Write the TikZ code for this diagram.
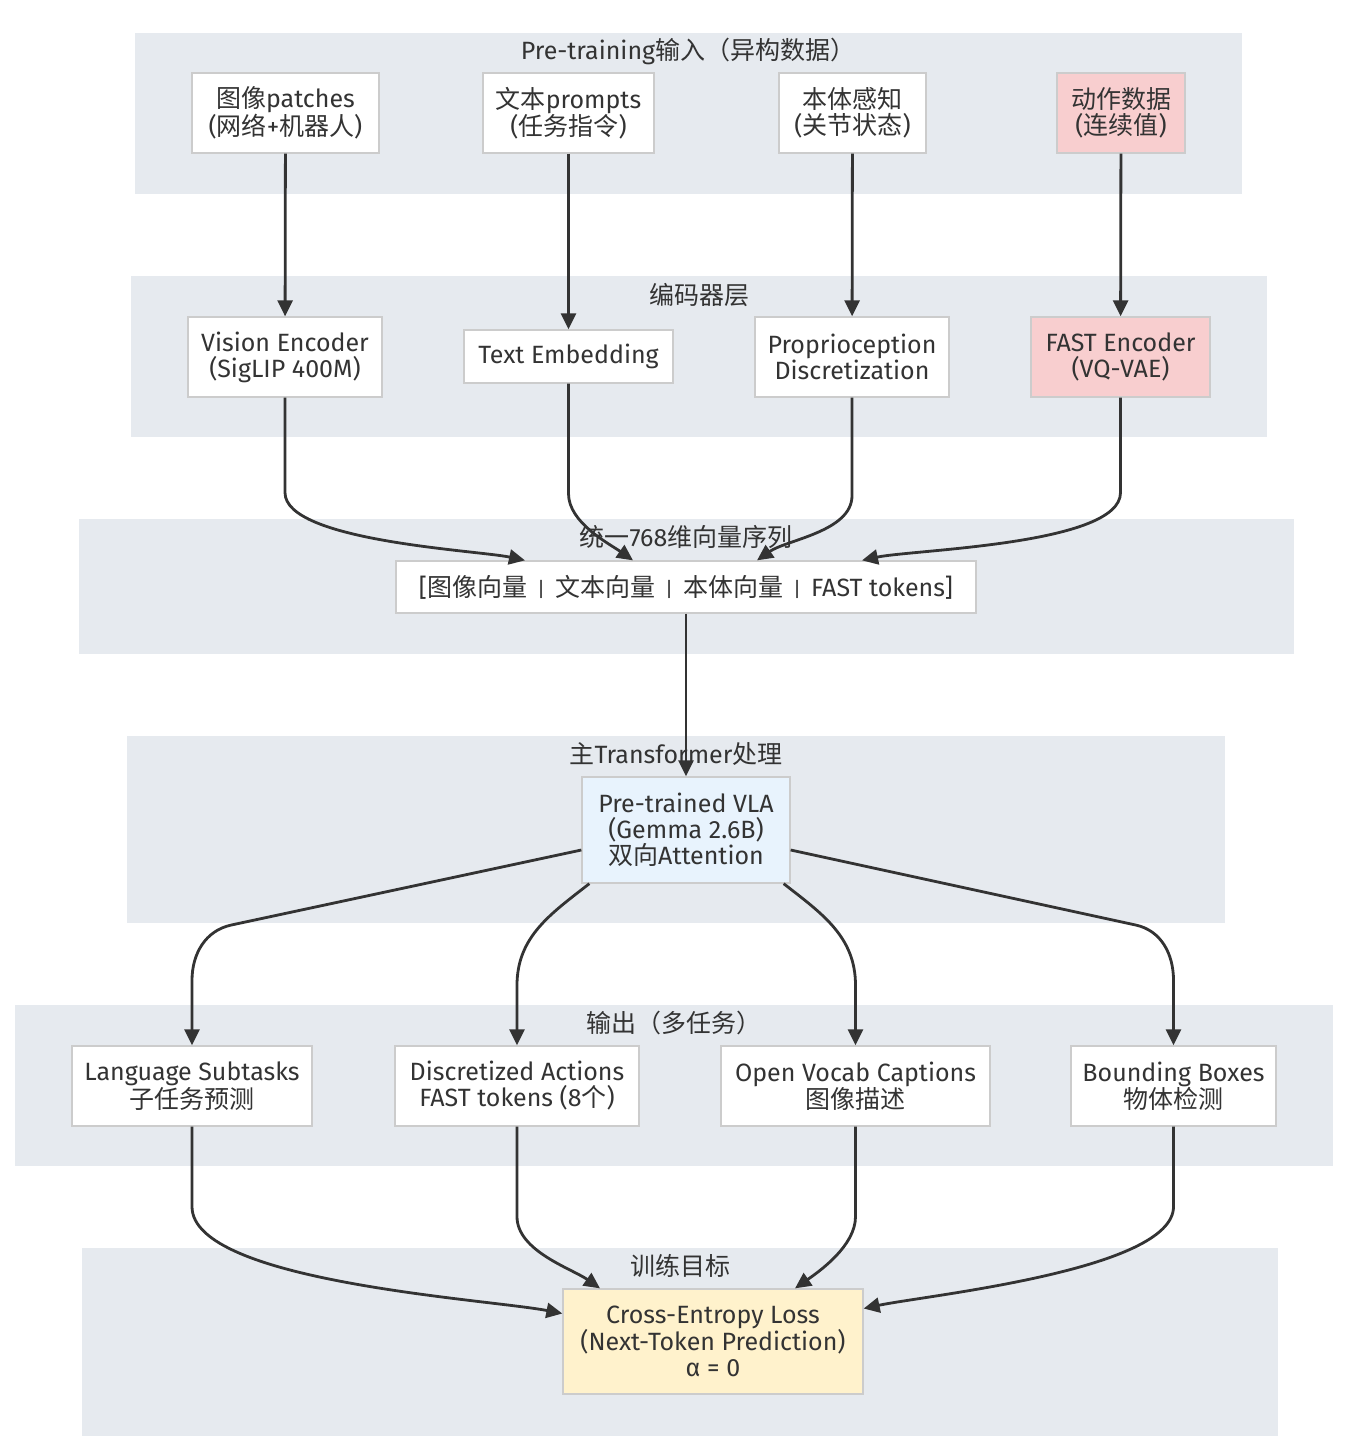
\documentclass[tikz,border=0pt]{standalone}
\usepackage{fontspec}
\setmainfont{Fira Sans}
\newfontfamily\zhfont{Noto Sans CJK SC}
\newcommand{\zh}[1]{{\zhfont #1}}
\newcommand{\vsep}{\hspace{10pt}{\fontsize{20}{20}\selectfont|}\hspace{10pt}}
\usepackage{xcolor}
\usetikzlibrary{arrows.meta,positioning,calc}
\definecolor{groupgray}{RGB}{230,234,239}
\definecolor{boxline}{RGB}{204,204,204}
\definecolor{txtgray}{RGB}{51,51,51}
\definecolor{arrowgray}{RGB}{51,51,51}
\definecolor{lightpink}{RGB}{248,206,207}
\definecolor{lightblue}{RGB}{232,243,253}
\definecolor{lightyellow}{RGB}{255,242,204}

\begin{document}
\begin{tikzpicture}[x=1pt, y=-1pt,
    box/.style={draw=boxline, line width=1.3pt, fill=white, text=txtgray, align=center, inner sep=0pt, minimum height=80pt, font=\fontsize{25}{26}\selectfont},
    grouptitle/.style={text=txtgray, inner sep=0pt, font=\fontsize{25}{26}\selectfont},
    arr/.style={-{Triangle[length=16pt,width=15pt]}, line width=2.8pt, draw=arrowgray}]
    \useasboundingbox (0,0) rectangle (1344,1456);

    % Groups
    \fill[groupgray] (135,33) rectangle (1242,194);
    \fill[groupgray] (131,276) rectangle (1267,437);
    \fill[groupgray] (79,519) rectangle (1294,654);
    \fill[groupgray] (127,736) rectangle (1225,923);
    \fill[groupgray] (15,1005) rectangle (1333,1166);
    \fill[groupgray] (82,1248) rectangle (1278,1436);
    \node[grouptitle] (g1) at (688,51) {Pre-training\zh{输入（异构数据）}};
    \node[grouptitle] (g2) at (699,295) {\zh{编码器层}};
    \node[grouptitle] (g3) at (686,537) {\zh{统一}768\zh{维向量序列}};
    \node[grouptitle] (g4) at (676,754) {\zh{主}Transformer\zh{处理}};
    \node[grouptitle] (g5) at (674,1023) {\zh{输出（多任务）}};
    \node[grouptitle] (g6) at (680,1266) {\zh{训练目标}};

    % Input Layer
    \node[box, minimum width=187pt] (img) at (285.5,113) {\zh{图像}patches\\(\zh{网络}+\zh{机器人})};
    \node[box, minimum width=171pt] (txt) at (568.5,113) {\zh{文本}prompts\\(\zh{任务指令})};
    \node[box, minimum width=147pt] (prop) at (852.5,113) {\zh{本体感知}\\(\zh{关节状态})};
    \node[box, fill=lightpink, minimum width=128pt] (act) at (1121,113) {\zh{动作数据}\\(\zh{连续值})};

    % Encoder Layer
    \node[box, minimum width=194pt] (vis) at (285,357) {Vision Encoder\\(SigLIP 400M)};
    \node[box, minimum width=209pt, minimum height=53pt] (temb) at (568.5,356.5) {Text Embedding};
    \node[box, minimum width=194pt] (propd) at (852,357) {Proprioception\\Discretization};
    \node[box, fill=lightpink, minimum width=179pt] (fast) at (1120.5,357) {FAST Encoder\\(VQ-VAE)};

    % Unified Sequence
    \node[box, minimum width=580pt, minimum height=52pt] (seq) at (686,587) {[\zh{图像向量}\vsep\zh{文本向量}\vsep\zh{本体向量}\vsep FAST tokens]};

    % Transformer
    \node[box, fill=lightblue, minimum width=208pt, minimum height=106pt] (vla) at (686,830) {Pre-trained VLA\\(Gemma 2.6B)\\\zh{双向}Attention};

    % Outputs
    \node[box, minimum width=240pt] (lang) at (192,1086) {Language Subtasks\\\zh{子任务预测}};
    \node[box, minimum width=244pt] (disc) at (517,1086) {Discretized Actions\\FAST tokens (8\zh{个})};
    \node[box, minimum width=269pt] (cap) at (855.5,1086) {Open Vocab Captions\\\zh{图像描述}};
    \node[box, minimum width=205pt] (bbox) at (1173.5,1086) {Bounding Boxes\\\zh{物体检测}};

    % Objective
    \node[box, fill=lightyellow, minimum width=300pt, minimum height=105pt] (loss) at (713,1341.5) {Cross-Entropy Loss\\(Next-Token Prediction)\\α = 0};

    % Connections
    \draw[arr] (img) -- (vis);
    \draw[arr] (txt) -- (temb);
    \draw[arr] (prop) -- (propd);
    \draw[arr] (act) -- (fast);

    \draw[arr] (vis.south) -- ++(0,95) to[out=-90,in=168,looseness=0.5] ([xshift=-161pt]seq.north);
    \draw[arr] (temb.south) -- ++(0,110) to[out=-90,in=145,looseness=0.8] ([xshift=-53pt]seq.north);
    \draw[arr] (propd.south) -- ++(0,98) to[out=-90,in=35,looseness=0.8] ([xshift=71pt]seq.north);
    \draw[arr] (fast.south) -- ++(0,95) to[out=-90,in=12,looseness=0.5] ([xshift=176pt]seq.north);

    \draw[arr] (seq) -- (vla);

    \draw[arr] ([yshift=-20pt]vla.west) -- ++(-350,75) to[out=192,in=90] ([yshift=65pt]lang.north) -- (lang.north);
    \draw[arr] ([xshift=8pt]vla.south west) to[out=218,in=90] ([yshift=60pt]disc.north) -- (disc.north);
    \draw[arr] ([xshift=-7pt]vla.south east) to[out=-38,in=90] ([yshift=60pt]cap.north) -- (cap.north);
    \draw[arr] ([yshift=-20pt]vla.east) -- ++(345,75) to[out=-12,in=90] ([yshift=65pt]bbox.north) -- (bbox.north);

    \draw[arr] (lang.south) -- ++(0,80) to[out=-90,in=169,looseness=0.5] ([yshift=28pt]loss.west);
    \draw[arr] (disc.south) -- ++(0,90) to[out=-90,in=145,looseness=0.8] ([xshift=-113pt]loss.north);
    \draw[arr] (cap.south) -- ++(0,90) to[out=-90,in=35,looseness=0.8] ([xshift=82pt]loss.north);
    \draw[arr] (bbox.south) -- ++(0,80) to[out=-90,in=12,looseness=0.5] ([yshift=33pt]loss.east);

\end{tikzpicture}
\end{document}
